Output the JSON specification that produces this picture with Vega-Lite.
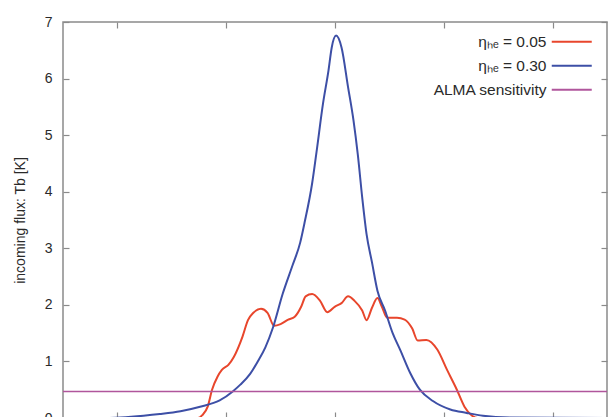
{
  "$schema": "https://vega.github.io/schema/vega-lite/v6.json",
  "width": 544,
  "height": 396,
  "autosize": "none",
  "padding": {"left": 63, "top": 22, "right": 9, "bottom": 0},
  "config": {
    "font": "Liberation Sans",
    "view": {"stroke": "#8a8a8a", "strokeWidth": 1.5},
    "axis": {
      "domain": false, "grid": false,
      "tickColor": "#8a8a8a", "tickSize": -6, "tickWidth": 1.2,
      "labelFontSize": 14, "labelColor": "#2a2a2a", "labelPadding": 17,
      "titleFontSize": 14, "titleFontWeight": "normal", "titleColor": "#2a2a2a"
    },
    "legend": {
      "title": null,
      "symbolType": "M-5,0H5", "symbolSize": 64, "symbolStrokeWidth": 2,
      "labelFontSize": 15.5, "labelColor": "#2a2a2a",
      "labelAlign": "right", "labelOffset": -33,
      "rowPadding": 7, "padding": 0
    }
  },
  "datasets": {
    "lines": [
      {"x": -2.5, "y": 0, "s": "ηₕₑ = 0.05"},
      {"x": -1.26, "y": 0, "s": "ηₕₑ = 0.05"},
      {"x": -1.22, "y": 0.05, "s": "ηₕₑ = 0.05"},
      {"x": -1.17, "y": 0.2, "s": "ηₕₑ = 0.05"},
      {"x": -1.13, "y": 0.5, "s": "ηₕₑ = 0.05"},
      {"x": -1.08, "y": 0.73, "s": "ηₕₑ = 0.05"},
      {"x": -1.04, "y": 0.85, "s": "ηₕₑ = 0.05"},
      {"x": -0.98, "y": 0.94, "s": "ηₕₑ = 0.05"},
      {"x": -0.93, "y": 1.08, "s": "ηₕₑ = 0.05"},
      {"x": -0.85, "y": 1.44, "s": "ηₕₑ = 0.05"},
      {"x": -0.8, "y": 1.73, "s": "ηₕₑ = 0.05"},
      {"x": -0.75, "y": 1.86, "s": "ηₕₑ = 0.05"},
      {"x": -0.68, "y": 1.93, "s": "ηₕₑ = 0.05"},
      {"x": -0.62, "y": 1.86, "s": "ηₕₑ = 0.05"},
      {"x": -0.56, "y": 1.63, "s": "ηₕₑ = 0.05"},
      {"x": -0.5, "y": 1.66, "s": "ηₕₑ = 0.05"},
      {"x": -0.43, "y": 1.74, "s": "ηₕₑ = 0.05"},
      {"x": -0.37, "y": 1.79, "s": "ηₕₑ = 0.05"},
      {"x": -0.31, "y": 1.97, "s": "ηₕₑ = 0.05"},
      {"x": -0.27, "y": 2.15, "s": "ηₕₑ = 0.05"},
      {"x": -0.21, "y": 2.19, "s": "ηₕₑ = 0.05"},
      {"x": -0.14, "y": 2.08, "s": "ηₕₑ = 0.05"},
      {"x": -0.07, "y": 1.87, "s": "ηₕₑ = 0.05"},
      {"x": 0, "y": 1.97, "s": "ηₕₑ = 0.05"},
      {"x": 0.06, "y": 2.03, "s": "ηₕₑ = 0.05"},
      {"x": 0.12, "y": 2.15, "s": "ηₕₑ = 0.05"},
      {"x": 0.18, "y": 2.07, "s": "ηₕₑ = 0.05"},
      {"x": 0.25, "y": 1.9, "s": "ηₕₑ = 0.05"},
      {"x": 0.29, "y": 1.73, "s": "ηₕₑ = 0.05"},
      {"x": 0.34, "y": 1.95, "s": "ηₕₑ = 0.05"},
      {"x": 0.39, "y": 2.12, "s": "ηₕₑ = 0.05"},
      {"x": 0.43, "y": 1.97, "s": "ηₕₑ = 0.05"},
      {"x": 0.48, "y": 1.77, "s": "ηₕₑ = 0.05"},
      {"x": 0.57, "y": 1.77, "s": "ηₕₑ = 0.05"},
      {"x": 0.64, "y": 1.74, "s": "ηₕₑ = 0.05"},
      {"x": 0.71, "y": 1.58, "s": "ηₕₑ = 0.05"},
      {"x": 0.76, "y": 1.37, "s": "ηₕₑ = 0.05"},
      {"x": 0.84, "y": 1.38, "s": "ηₕₑ = 0.05"},
      {"x": 0.94, "y": 1.21, "s": "ηₕₑ = 0.05"},
      {"x": 1.03, "y": 0.85, "s": "ηₕₑ = 0.05"},
      {"x": 1.12, "y": 0.5, "s": "ηₕₑ = 0.05"},
      {"x": 1.19, "y": 0.2, "s": "ηₕₑ = 0.05"},
      {"x": 1.26, "y": 0.04, "s": "ηₕₑ = 0.05"},
      {"x": 1.31, "y": 0, "s": "ηₕₑ = 0.05"},
      {"x": 2.5, "y": 0, "s": "ηₕₑ = 0.05"},
      {"x": -2.5, "y": 0, "s": "ηₕₑ = 0.30"},
      {"x": -2.16, "y": 0, "s": "ηₕₑ = 0.30"},
      {"x": -1.97, "y": 0.01, "s": "ηₕₑ = 0.30"},
      {"x": -1.76, "y": 0.04, "s": "ηₕₑ = 0.30"},
      {"x": -1.61, "y": 0.07, "s": "ηₕₑ = 0.30"},
      {"x": -1.42, "y": 0.12, "s": "ηₕₑ = 0.30"},
      {"x": -1.24, "y": 0.2, "s": "ηₕₑ = 0.30"},
      {"x": -1.06, "y": 0.31, "s": "ηₕₑ = 0.30"},
      {"x": -0.94, "y": 0.47, "s": "ηₕₑ = 0.30"},
      {"x": -0.87, "y": 0.59, "s": "ηₕₑ = 0.30"},
      {"x": -0.78, "y": 0.78, "s": "ηₕₑ = 0.30"},
      {"x": -0.71, "y": 1.0, "s": "ηₕₑ = 0.30"},
      {"x": -0.64, "y": 1.25, "s": "ηₕₑ = 0.30"},
      {"x": -0.57, "y": 1.6, "s": "ηₕₑ = 0.30"},
      {"x": -0.48, "y": 2.2, "s": "ηₕₑ = 0.30"},
      {"x": -0.39, "y": 2.7, "s": "ηₕₑ = 0.30"},
      {"x": -0.32, "y": 3.1, "s": "ηₕₑ = 0.30"},
      {"x": -0.28, "y": 3.45, "s": "ηₕₑ = 0.30"},
      {"x": -0.21, "y": 4.15, "s": "ηₕₑ = 0.30"},
      {"x": -0.17, "y": 4.7, "s": "ηₕₑ = 0.30"},
      {"x": -0.11, "y": 5.56, "s": "ηₕₑ = 0.30"},
      {"x": -0.06, "y": 6.14, "s": "ηₕₑ = 0.30"},
      {"x": -0.03, "y": 6.55, "s": "ηₕₑ = 0.30"},
      {"x": 0.01, "y": 6.76, "s": "ηₕₑ = 0.30"},
      {"x": 0.06, "y": 6.55, "s": "ηₕₑ = 0.30"},
      {"x": 0.12, "y": 5.85, "s": "ηₕₑ = 0.30"},
      {"x": 0.17, "y": 5.26, "s": "ηₕₑ = 0.30"},
      {"x": 0.21, "y": 4.65, "s": "ηₕₑ = 0.30"},
      {"x": 0.25, "y": 3.9, "s": "ηₕₑ = 0.30"},
      {"x": 0.29, "y": 3.25, "s": "ηₕₑ = 0.30"},
      {"x": 0.34, "y": 2.75, "s": "ηₕₑ = 0.30"},
      {"x": 0.39, "y": 2.25, "s": "ηₕₑ = 0.30"},
      {"x": 0.46, "y": 1.9, "s": "ηₕₑ = 0.30"},
      {"x": 0.53, "y": 1.5, "s": "ηₕₑ = 0.30"},
      {"x": 0.6, "y": 1.2, "s": "ηₕₑ = 0.30"},
      {"x": 0.69, "y": 0.8, "s": "ηₕₑ = 0.30"},
      {"x": 0.78, "y": 0.5, "s": "ηₕₑ = 0.30"},
      {"x": 0.9, "y": 0.3, "s": "ηₕₑ = 0.30"},
      {"x": 1.06, "y": 0.15, "s": "ηₕₑ = 0.30"},
      {"x": 1.21, "y": 0.09, "s": "ηₕₑ = 0.30"},
      {"x": 1.36, "y": 0.04, "s": "ηₕₑ = 0.30"},
      {"x": 1.61, "y": 0.01, "s": "ηₕₑ = 0.30"},
      {"x": 2.5, "y": 0, "s": "ηₕₑ = 0.30"}
    ],
    "alma": [
      {"x": -2.5, "x2": 2.5, "y": 0.47, "s": "ALMA sensitivity"}
    ]
  },
  "layer": [
    {
      "data": {"name": "lines"},
      "mark": {"type": "line", "interpolate": "monotone", "strokeWidth": 2},
      "encoding": {
        "x": {"field": "x", "type": "quantitative",
              "scale": {"domain": [-2.5, 2.5], "nice": false},
              "axis": {"orient": "bottom", "values": [-2, -1, 0, 1, 2], "labels": false, "title": null}},
        "y": {"field": "y", "type": "quantitative",
              "scale": {"domain": [0, 7], "nice": false},
              "axis": {"orient": "left", "values": [0, 1, 2, 3, 4, 5, 6, 7],
                       "title": "incoming flux: Tb [K]", "titlePadding": 17}},
        "color": {"field": "s", "type": "nominal",
                  "scale": {"domain": ["ηₕₑ = 0.05", "ηₕₑ = 0.30", "ALMA sensitivity"],
                            "range": ["#e8462c", "#3d4fa6", "#b0569c"]},
                  "legend": {"orient": "none", "legendX": 501, "legendY": 12}}
      }
    },
    {
      "data": {"name": "alma"},
      "mark": {"type": "rule", "strokeWidth": 1.5},
      "encoding": {
        "x": {"field": "x", "type": "quantitative",
              "axis": {"orient": "top", "values": [-2, -1, 0, 1, 2], "labels": false, "title": null}},
        "x2": {"field": "x2"},
        "y": {"field": "y", "type": "quantitative",
              "axis": {"orient": "right", "values": [0, 1, 2, 3, 4, 5, 6, 7], "labels": false, "title": null}},
        "color": {"field": "s", "type": "nominal"}
      }
    }
  ],
  "resolve": {"axis": {"x": "independent", "y": "independent"}}
}
